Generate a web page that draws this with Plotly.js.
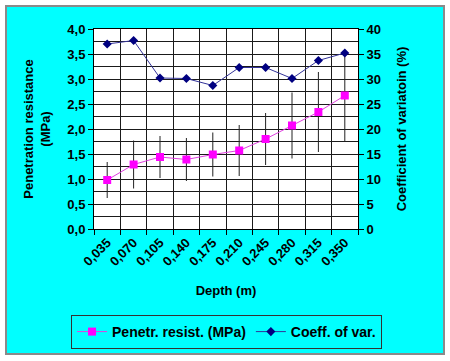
<!DOCTYPE html>
<html>
<head>
<meta charset="utf-8">
<script src="https://cdn.plot.ly/plotly-3.0.1.min.js"></script>
<style>
  html, body { margin: 0; padding: 0; background: #ffffff; }
  #frame { position: absolute; left: 5px; top: 5px; width: 436px; height: 346px;
           background: #00FFFF; border: 2px solid #8a8a8a; }
  #chart { position: absolute; left: 0; top: 0; width: 450px; height: 361px; }
</style>
</head>
<body>
<div id="frame"></div>
<div id="chart"></div>
<script>
// Data
const depthLabels = ["0,035", "0,070", "0,105", "0,140", "0,175", "0,210", "0,245", "0,280", "0,315", "0,350"];
const penetrationResistance = [0.98, 1.29, 1.44, 1.39, 1.49, 1.57, 1.80, 2.07, 2.34, 2.67];
const penetrationError = [0.36, 0.48, 0.42, 0.43, 0.44, 0.51, 0.52, 0.66, 0.80, 0.92];
const coeffOfVariation = [37.0, 37.7, 30.2, 30.1, 28.7, 32.3, 32.3, 30.1, 33.7, 35.2];

const font = { family: "Liberation Sans, Arial, sans-serif", size: 13, color: "#000000", weight: "bold" };
const legendFont = Object.assign({}, font, { size: 14 });
const gridColor = "#1a1a1a";

const traces = [
  {
    x: depthLabels, y: penetrationResistance, name: "Penetr. resist. (MPa)",
    type: "scatter", mode: "lines+markers",
    line: { color: "#E040E0", width: 1 },
    marker: { symbol: "square", size: 8, color: "#FF00FF" },
    error_y: { type: "data", array: penetrationError, symmetric: true, color: "#222222", thickness: 1, width: 0 },
    yaxis: "y"
  },
  {
    x: depthLabels, y: coeffOfVariation, name: "Coeff. of var.",
    type: "scatter", mode: "lines+markers",
    line: { color: "#333399", width: 1 },
    marker: { symbol: "diamond", size: 7, color: "#000080" },
    yaxis: "y2"
  }
];

const layout = {
  width: 450, height: 361,
  margin: { l: 94, r: 92, t: 29, b: 130 },
  paper_bgcolor: "rgba(0,0,0,0)",
  plot_bgcolor: "#ffffff",
  separators: ", ",
  font: font,
  showlegend: true,
  legend: {
    orientation: "h", x: -0.087, xanchor: "left", y: -0.43, yanchor: "top",
    bgcolor: "#00FFFF", bordercolor: "#333333", borderwidth: 1,
    font: legendFont, itemwidth: 30, traceorder: "normal"
  },
  xaxis: {
    type: "category", tickson: "boundaries",
    tickangle: -45, tickfont: font,
    ticks: "outside", ticklen: 5, tickcolor: "#000",
    showgrid: true, gridcolor: gridColor, gridwidth: 1,
    showline: true, linecolor: "#000", linewidth: 1, mirror: true,
    title: { text: "Depth (m)", font: font, standoff: 18 },
    range: [-0.5, 9.5]
  },
  yaxis: {
    range: [0, 4], dtick: 0.5, tickformat: ".1f",
    ticks: "outside", ticklen: 5, tickcolor: "#000",
    tickfont: font,
    showgrid: true, gridcolor: gridColor, gridwidth: 1,
    showline: true, linecolor: "#000", linewidth: 1,
    zeroline: false,
    title: { text: "Penetration resistance<br>(MPa)", font: font, standoff: 13 }
  },
  yaxis2: {
    overlaying: "y", side: "right",
    range: [0, 40], dtick: 5,
    ticks: "outside", ticklen: 5, tickcolor: "#000",
    tickfont: font,
    showgrid: true, gridcolor: gridColor, gridwidth: 1,
    minor: { dtick: 2.5, showgrid: true, gridcolor: gridColor, gridwidth: 1, ticks: "" },
    zeroline: false,
    showline: true, linecolor: "#000", linewidth: 1,
    title: { text: "Coefficient of variatoin (%)", font: font, standoff: 16 }
  }
};

Plotly.newPlot("chart", traces, layout, { displayModeBar: false, staticPlot: true });
</script>
</body>
</html>
